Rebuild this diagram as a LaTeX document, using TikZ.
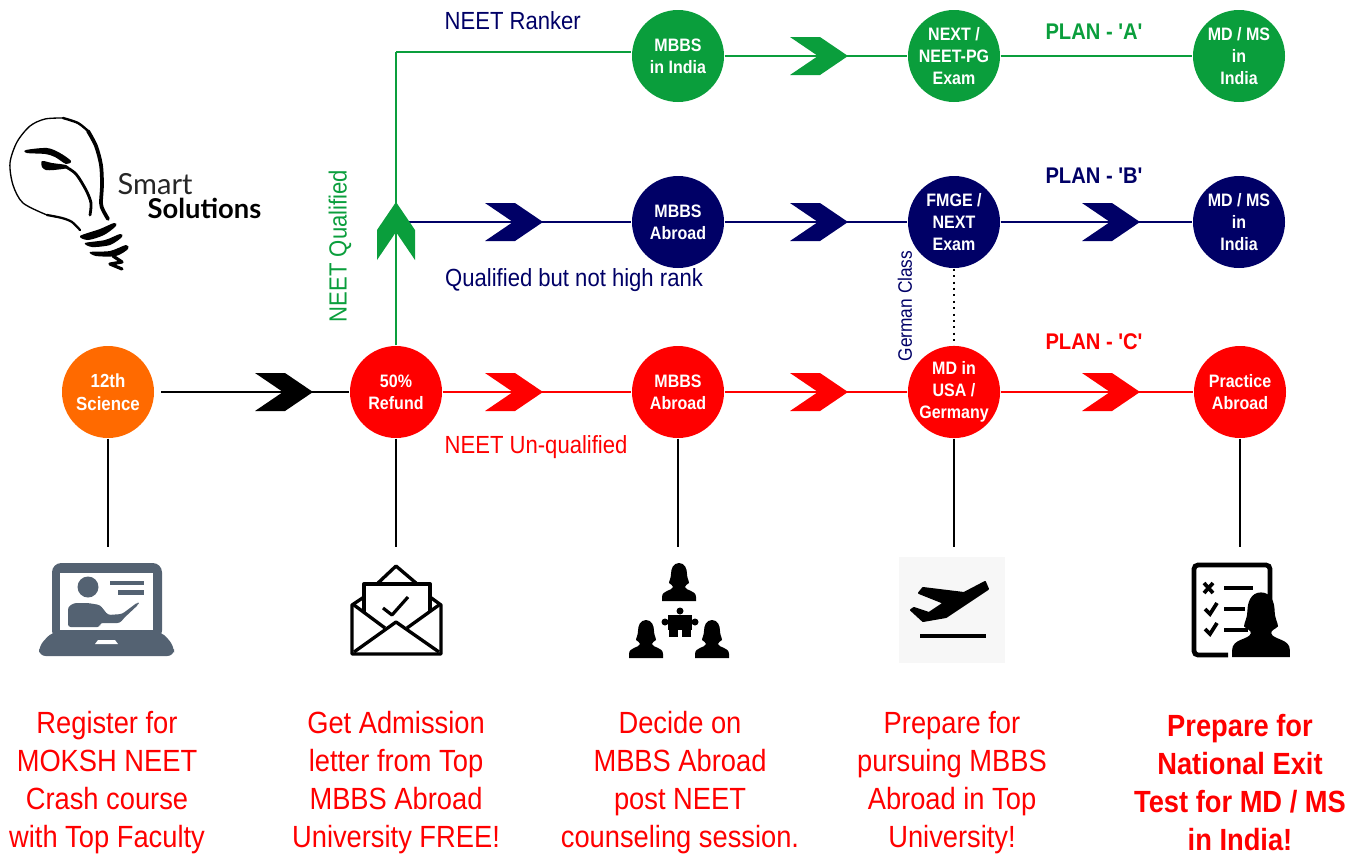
\documentclass[tikz,border=0pt]{standalone}
\usepackage{fontspec}
\setmainfont{Liberation Sans}
\newfontfamily\condfont[FakeStretch=0.89]{Liberation Sans}
\newfontfamily\logofont{Lato}
\definecolor{plangreen}{RGB}{10,158,60}
\definecolor{plannavy}{RGB}{0,0,102}
\definecolor{planorange}{RGB}{255,106,0}
\definecolor{laptopgrey}{RGB}{84,98,114}
\tikzset{
  stage/.style={circle,fill=#1,minimum size=69pt,inner sep=0pt,align=center,text=white,
    font=\condfont\bfseries\fontsize{13.5}{16.5}\selectfont},
  linktext/.style={text=#1,anchor=base west,inner sep=0pt,font=\condfont\fontsize{18.6}{22}\selectfont},
  plantext/.style={text=#1,anchor=base,inner sep=0pt,font=\condfont\bfseries\fontsize{17}{20}\selectfont},
  steptext/.style={text=red,align=center,inner sep=0pt,font=\condfont\fontsize{23}{28.5}\selectfont},
  pics/chevron/.style={code={
    \fill[#1] (0,0) -- (-28,-19) -- (-58,-19) -- (-30,0) -- (-58,19) -- (-28,19) -- cycle;}},
  pics/bust/.style={code={
    \fill (0,-38) .. controls (6,-38) and (8,-32) .. (8,-27) .. controls (8,-23) and (10,-20) .. (10,-18)
      .. controls (8,-16) and (6,-16) .. (6,-14) .. controls (7,-10) and (17,-11) .. (17,-4) -- (17,0)
      -- (-17,0) -- (-17,-4) .. controls (-17,-11) and (-7,-10) .. (-6,-14)
      .. controls (-6,-16) and (-8,-16) .. (-10,-18) .. controls (-10,-20) and (-8,-23) .. (-8,-27)
      .. controls (-8,-32) and (-6,-38) .. (0,-38) -- cycle;}}
}
\begin{document}
\begin{tikzpicture}[x=0.75pt,y=-0.75pt,line width=1.05pt]
  \useasboundingbox (0,0) rectangle (1358,857);
  % stages
  \node[stage=planorange,font=\condfont\bfseries\fontsize{14.2}{17}\selectfont] (science) at (108,392) {12th\\Science};
  \node[stage=red] (refund) at (396,392) {50\%\\Refund};
  \node[stage=red] (abroadC) at (678,392) {MBBS\\Abroad};
  \node[stage=red] (usa) at (954,392) {MD in\\USA /\\Germany};
  \node[stage=red] (practice) at (1240,392) {Practice\\Abroad};
  \node[stage=plannavy] (abroadB) at (678,222) {MBBS\\Abroad};
  \node[stage=plannavy] (fmge) at (954,222) {FMGE /\\NEXT\\Exam};
  \node[stage=plannavy] (mdB) at (1239,222) {MD / MS\\in\\India};
  \node[stage=plangreen] (india) at (678,56) {MBBS\\in India};
  \node[stage=plangreen] (next) at (954,56) {NEXT /\\NEET-PG\\Exam};
  \node[stage=plangreen] (mdA) at (1239,56) {MD / MS\\in\\India};
  % free ends
  \coordinate (start) at (161,392);
  \coordinate (corner) at (396,52);
  \coordinate (fork) at (396,222);
  \coordinate (sciencedown) at (108,547);
  \coordinate (refunddown) at (396,547);
  \coordinate (abroaddown) at (678,547);
  \coordinate (usadown) at (954,547);
  \coordinate (practicedown) at (1240,547);
  % connectors
  \begin{scope}[black]
    \draw (start) to (refund);
    \draw (science) to (sciencedown);
    \draw (refund) to (refunddown);
    \draw (abroadC) to (abroaddown);
    \draw (usa) to (usadown);
    \draw (practice) to (practicedown);
    \draw[line width=1.3pt,dash pattern=on 1.5pt off 3.3pt] (fmge) to (usa);
  \end{scope}
  \begin{scope}[red]
    \draw (refund) to (abroadC);
    \draw (abroadC) to (usa);
    \draw (usa) to (practice);
  \end{scope}
  \begin{scope}[plannavy]
    \draw (fork) to (abroadB);
    \draw (abroadB) to (fmge);
    \draw (fmge) to (mdB);
  \end{scope}
  \begin{scope}[plangreen]
    \draw (refund) to (corner);
    \draw (corner) to (corner -| india.west);
    \draw (india) to (next);
    \draw (next) to (mdA);
  \end{scope}
  % chevrons
  \pic at (313,392) {chevron=black};
  \pic at (543,392) {chevron=red};
  \pic at (848,392) {chevron=red};
  \pic at (1140,392) {chevron=red};
  \pic at (543,222) {chevron=plannavy};
  \pic at (848,222) {chevron=plannavy};
  \pic at (1140,222) {chevron=plannavy};
  \pic at (848,56) {chevron=plangreen};
  \pic[rotate=90] at (396,202) {chevron=plangreen};
  % labels
  \node[linktext=plannavy] (ranker) at (444,29) {NEET Ranker};
  \node[linktext=plannavy] (rank) at (444.5,286) {Qualified but not high rank};
  \node[linktext=red] (unqualified) at (444,453) {NEET Un-qualified};
  \node[plantext=plangreen] (planA) at (1094,39) {PLAN - 'A'};
  \node[plantext=plannavy] (planB) at (1094,183) {PLAN - 'B'};
  \node[plantext=red] (planC) at (1094,349) {PLAN - 'C'};
  \node[text=plangreen,rotate=90,inner sep=0pt,font=\condfont\fontsize{18.6}{22}\selectfont] (qualified) at (340,246) {NEET Qualified};
  \node[text=plannavy,rotate=90,inner sep=0pt,font=\condfont\fontsize{14.6}{17}\selectfont] (german) at (905,306) {German Class};
  \node[steptext] (step1) at (107,783) {Register for\\MOKSH NEET\\Crash course\\with Top Faculty};
  \node[steptext] (step2) at (396,783) {Get Admission\\letter from Top\\MBBS Abroad\\University FREE!};
  \node[steptext] (step3) at (680,783) {Decide on\\MBBS Abroad\\post NEET\\counseling session.};
  \node[steptext] (step4) at (952,783) {Prepare for\\pursuing MBBS\\Abroad in Top\\University!};
  \node[steptext,font=\condfont\bfseries\fontsize{23}{28.5}\selectfont] (step5) at (1240,783) {Prepare for\\National Exit\\Test for MD / MS\\in India!};
  % logo
  \node[anchor=base west,inner sep=0pt,text=black!85,font=\logofont\fontsize{21.8}{24}\selectfont] (smart) at (117,194) {Smart};
  \node[anchor=base west,inner sep=0pt,font=\logofont\bfseries\fontsize{20.5}{24}\selectfont] (solutions) at (147,218) {Solutions};
  \draw[line width=1pt,line cap=round] plot[smooth] coordinates {(63,118) (45,119) (30,126) (17,142) (10,163) (13,185) (23,203) (47,215)};
  \draw[line width=1.7pt,line cap=round] plot[smooth] coordinates {(47,215) (62,218) (72,222) (80,230)};
  \draw[line width=1.8pt,line cap=round] plot[smooth] coordinates {(63,118) (78,123) (88,131)};
  \draw[line width=2.8pt,line cap=round] plot[smooth] coordinates {(88,131) (96,146) (101,165) (102,185) (101,203) (103,210) (108,219)};
  \fill plot[smooth cycle] coordinates {(26,150) (47,148) (60,153) (71,161) (66,164) (55,157) (45,154) (27,153)};
  \fill plot[smooth cycle] coordinates {(42,161) (52,163) (66,165) (68,168) (54,170) (46,170) (42,167)};
  \draw[line width=2.1pt,line cap=round] plot[smooth] coordinates {(66,167) (76,174) (86,190) (91,203) (90,215)};
  \fill plot[smooth cycle] coordinates {(80,236) (100,229) (114,223) (116,226) (104,235) (88,240)};
  \fill plot[smooth cycle] coordinates {(85,243) (105,240) (120,234) (122,237) (110,245) (92,247)};
  \fill plot[smooth cycle] coordinates {(90,252) (110,251) (126,245) (128,249) (116,256) (96,256)};
  \draw[line width=2.4pt,line cap=round,line join=round] (113,256) -- (122,262) -- (110,264) -- (122,269);
  % laptop
  \begin{scope}[laptopgrey]
    \fill[rounded corners=7pt] (52,640) -- (52,563) -- (162,563) -- (162,640) -- cycle;
    \fill[rounded corners=5pt] (52,632) -- (162,632) -- (174,646) -- (174,656) -- (39,656) -- (39,646) -- cycle;
    \fill[white] (60,573) rectangle (153,630);
    \fill[white] (95,644) -- (98,640) -- (115,640) -- (118,644) -- cycle;
    \fill (88,587) circle (10.5);
    \fill[rounded corners=2pt] (68,627) -- (68,607) -- (74,603) -- (88,603) -- (100,605) -- (108,615) -- (122,614) -- (138,602) -- (139,604) -- (124,618) -- (120,623) -- (100,623) -- (100,627) -- cycle;
    \fill (110,581) rectangle (144,585);
    \fill (118,590) rectangle (144,595);
  \end{scope}
  % envelope
  \begin{scope}[line width=2.5pt,line join=round]
    \draw (364,597) -- (352,605) -- (352,654) -- (441,654) -- (441,605) -- (430,597);
    \draw (364,612) -- (364,584) -- (430,584) -- (430,612);
    \draw (378,583) -- (396,566) -- (416,583);
    \draw (354,652) -- (396,622) -- (439,652);
    \draw (354,605) -- (385,628);
    \draw (439,605) -- (407,628);
    \draw[line width=2.4pt] (383,608) -- (392,615) -- (408,597);
  \end{scope}
  % group with puzzle
  \pic at (679,601) {bust};
  \pic at (646,658) {bust};
  \pic at (712,658) {bust};
  \fill (668,615) rectangle (692,630);
  \fill (680,611) circle (3.5);
  \fill (665,622) circle (3.5);
  \fill (695,622) circle (3.5);
  \fill (669,630) rectangle (678,637);
  \fill (682,630) rectangle (691,637);
  % plane
  \fill[black!3] (899,557) rectangle (1005,663);
  \filldraw[line width=1.5pt,line join=round] (911,610) -- (923,621) -- (946,617) -- (988,589) -- (985,582) -- (964,593) -- (923,588) -- (919,593) -- (944,603) -- (929,613) -- (914,608) -- cycle;
  \draw[line width=3pt] (920,636) -- (986,636);
  % checklist
  \draw[line width=3.6pt,rounded corners=3pt] (1270,602) -- (1270,565) -- (1194,565) -- (1194,655) -- (1228,655);
  \begin{scope}[line width=2.8pt]
    \draw (1204,583) -- (1213,593);
    \draw (1213,583) -- (1204,593);
    \draw (1224,588) -- (1253,588);
    \draw (1205,609) -- (1210,614) -- (1217,603);
    \draw (1224,609) -- (1245,609);
    \draw (1205,629) -- (1210,634) -- (1217,623);
    \draw (1224,630) -- (1248,630);
  \end{scope}
  \pic[scale=1.7] at (1261,657) {bust};
\end{tikzpicture}
\end{document}
